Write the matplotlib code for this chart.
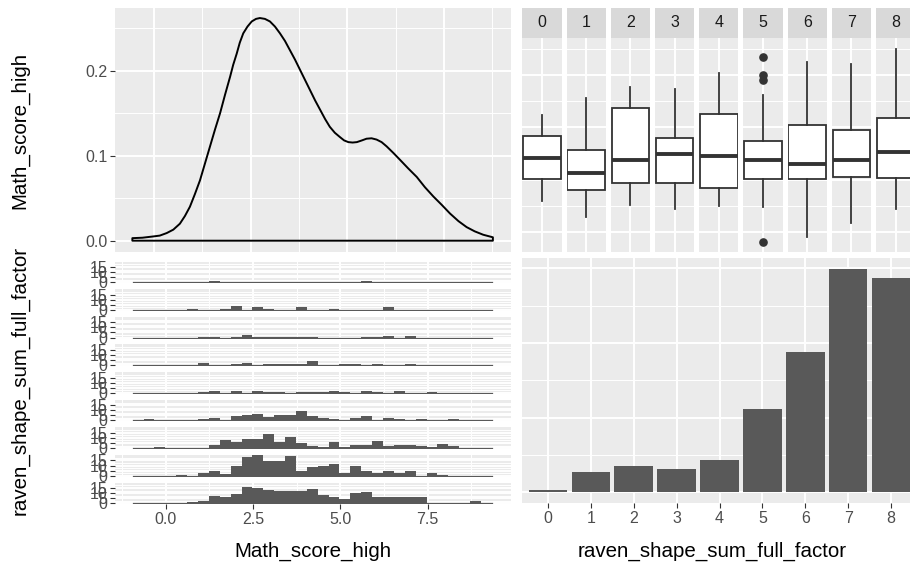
import numpy as np
import matplotlib
matplotlib.use("Agg")
import matplotlib.pyplot as plt

plt.rcParams["font.family"] = ["Liberation Sans", "DejaVu Sans"]

# ─────────────────────────────────────────────────────────────
#  data
# ─────────────────────────────────────────────────────────────
groups = ["0", "1", "2", "3", "4", "5", "6", "7", "8"]

# diagonal density of Math_score_high
dens_x = [-0.56, -0.30, -0.02, 0.15, 0.33, 0.50, 0.67, 0.80, 0.93, 1.06, 1.19,
          1.32, 1.45, 1.58, 1.71, 1.84, 1.97, 2.05, 2.14, 2.22, 2.31, 2.42,
          2.53, 2.64, 2.74, 2.87, 3.00, 3.13, 3.26, 3.39, 3.52, 3.65, 3.78,
          3.91, 4.04, 4.17, 4.30, 4.43, 4.55, 4.68, 4.81, 4.92, 5.03, 5.14,
          5.25, 5.38, 5.50, 5.63, 5.76, 5.89, 6.02, 6.20, 6.37, 6.58, 6.80,
          7.01, 7.23, 7.45, 7.66, 7.88, 8.09, 8.30, 8.52, 8.77]
dens_y = [0.0030, 0.0035, 0.0050, 0.0060, 0.0090, 0.0130, 0.0200, 0.0290,
          0.0400, 0.0550, 0.0710, 0.0910, 0.1110, 0.1310, 0.1500, 0.1720,
          0.1930, 0.2070, 0.2200, 0.2330, 0.2440, 0.2520, 0.2580, 0.2610,
          0.2620, 0.2610, 0.2580, 0.2520, 0.2440, 0.2350, 0.2240, 0.2130,
          0.2010, 0.1890, 0.1770, 0.1650, 0.1540, 0.1430, 0.1340, 0.1270,
          0.1220, 0.1180, 0.1160, 0.1155, 0.1160, 0.1180, 0.1200, 0.1205,
          0.1190, 0.1160, 0.1110, 0.1030, 0.0950, 0.0850, 0.0750, 0.0630,
          0.0520, 0.0420, 0.0320, 0.0230, 0.0160, 0.0110, 0.0070, 0.0040]

# box plots of Math_score_high per raven group
box_lo = [1.49, 0.72, 1.28, 1.10, 1.22, 1.20, -0.27, 0.43, 1.07]
box_q1 = [2.51, 2.00, 2.35, 2.35, 2.11, 2.54, 2.53, 2.62, 2.59]
box_med = [3.55, 2.82, 3.46, 3.73, 3.65, 3.46, 3.26, 3.46, 3.82]
box_q3 = [4.59, 3.90, 5.92, 4.48, 5.63, 4.35, 5.12, 4.88, 5.44]
box_hi = [5.60, 6.43, 6.93, 6.85, 7.60, 6.56, 8.14, 8.03, 8.77]
box_fliers = [[], [], [], [], [], [8.37, 7.52, 7.28, -0.48], [], [], []]

# faceted histograms (33 bins) of Math_score_high per raven group
hist_lo, hist_hi, n_bins = -0.945, 9.338, 33
hist_counts = [
    [0, 0, 0, 0, 0, 0, 0, 1, 0, 0, 0, 0, 0, 0, 0, 0, 0, 0, 0, 0, 0, 1, 0, 0, 0, 0, 0, 0, 0, 0, 0, 0, 0],
    [0, 0, 0, 0, 0, 1, 0, 0, 1, 4, 0, 3, 1, 0, 0, 3, 0, 0, 1, 0, 0, 0, 0, 3, 0, 0, 0, 0, 0, 0, 0, 0, 0],
    [0, 0, 0, 0, 0, 0, 1, 1, 0, 1, 3, 1, 1, 1, 1, 1, 1, 0, 0, 0, 0, 1, 1, 2, 0, 2, 0, 0, 0, 0, 0, 0, 0],
    [0, 0, 0, 0, 0, 0, 2, 0, 0, 1, 2, 0, 1, 1, 1, 1, 4, 0, 0, 1, 1, 0, 1, 0, 0, 1, 0, 0, 0, 0, 0, 0, 0],
    [0, 0, 0, 0, 0, 0, 1, 2, 0, 2, 0, 2, 1, 1, 0, 1, 1, 1, 2, 1, 0, 2, 1, 0, 2, 0, 0, 1, 0, 0, 0, 0, 0],
    [0, 1, 0, 0, 0, 0, 1, 2, 0, 4, 5, 6, 3, 5, 5, 9, 4, 2, 1, 0, 2, 4, 0, 2, 1, 0, 1, 0, 0, 1, 0, 0, 0],
    [0, 0, 1, 0, 0, 0, 0, 3, 8, 6, 9, 9, 14, 6, 11, 5, 2, 1, 6, 1, 3, 3, 7, 2, 3, 3, 2, 1, 4, 2, 0, 0, 0],
    [0, 0, 0, 0, 1, 0, 3, 5, 2, 10, 18, 20, 14, 14, 19, 5, 9, 10, 11, 3, 10, 5, 3, 5, 3, 5, 0, 3, 1, 0, 0, 0, 0],
    [0, 0, 0, 0, 0, 1, 2, 7, 6, 9, 16, 15, 13, 12, 12, 12, 14, 8, 6, 4, 10, 11, 6, 6, 6, 6, 6, 0, 0, 0, 0, 2, 0],
]

# bar chart of raven_shape_sum_full_factor
bar_counts = [2, 16, 21, 19, 26, 67, 113, 179, 172]

# ─────────────────────────────────────────────────────────────
W, H = 910, 562
PANEL = "#EBEBEB"
STRIP = "#D9D9D9"
FILL = "#595959"
TXT = 11.5
TITLE = 14.8

fig = plt.figure(figsize=(W / 100, H / 100), dpi=100)
fig.patch.set_facecolor("white")


def add_ax(x0, y0, x1, y1):
    """axes from pixel box (top-left origin)"""
    return fig.add_axes([x0 / W, 1 - y1 / H, (x1 - x0) / W, (y1 - y0) / H])


def gg_style(ax):
    ax.set_facecolor(PANEL)
    for s in ax.spines.values():
        s.set_visible(False)
    ax.tick_params(colors="#333333", labelcolor="#4D4D4D", length=3.6,
                   width=0.8, labelsize=TXT, pad=2)


def gg_grid(ax, xmaj=(), xmin=(), ymaj=(), ymin=()):
    for v in xmin:
        ax.axvline(v, color="white", lw=0.7, zorder=0)
    for v in ymin:
        ax.axhline(v, color="white", lw=0.7, zorder=0)
    for v in xmaj:
        ax.axvline(v, color="white", lw=1.4, zorder=0)
    for v in ymaj:
        ax.axhline(v, color="white", lw=1.4, zorder=0)


# ── top-left: density ────────────────────────────────────────
ax = add_ax(115, 7.5, 510.7, 252)
gg_style(ax)
gg_grid(ax, xmaj=[0, 2.5, 5, 7.5], xmin=[1.25, 3.75, 6.25, 8.75],
        ymaj=[0, 0.1, 0.2], ymin=[0.05, 0.15, 0.25])
px = [dens_x[0]] + dens_x + [dens_x[-1]]
py = [0] + dens_y + [0]
ax.fill(px, py, facecolor="none", edgecolor="black", lw=1.4, zorder=3,
        joinstyle="round")
ax.set_xlim(-1.009, 9.231)
ax.set_ylim(-0.0133, 0.2744)
ax.set_xticks([])
ax.set_yticks([0, 0.1, 0.2])
ax.set_yticklabels(["0.0", "0.1", "0.2"])

# ── top-right: box plots faceted by group ────────────────────
for i, g in enumerate(groups):
    x0 = 522.3 + i * 44.2
    x1 = x0 + 39.4
    st = add_ax(x0, 7.5, x1, 38.3)
    st.set_facecolor(STRIP)
    for s in st.spines.values():
        s.set_visible(False)
    st.set_xticks([])
    st.set_yticks([])
    st.text(0.5, 0.5, g, ha="center", va="center", fontsize=TXT,
            color="#1A1A1A", transform=st.transAxes)

    ax = add_ax(x0, 38.3, x1, 252.3)
    gg_style(ax)
    gg_grid(ax, xmaj=[0], ymaj=[0, 2.5, 5, 7.5], ymin=[1.25, 3.75, 6.25, 8.75])
    stats = dict(med=box_med[i], q1=box_q1[i], q3=box_q3[i],
                 whislo=box_lo[i], whishi=box_hi[i], fliers=box_fliers[i])
    ax.bxp([stats], positions=[0], widths=0.95, patch_artist=True,
           showcaps=False,
           boxprops=dict(facecolor="white", edgecolor="#333333", lw=1.3),
           medianprops=dict(color="#333333", lw=2.8),
           whiskerprops=dict(color="#333333", lw=1.3),
           flierprops=dict(marker="o", markerfacecolor="#333333",
                           markeredgecolor="#333333", markersize=5.2))
    ax.set_xlim(-0.5, 0.5)
    ax.set_ylim(-0.992, 9.28)
    ax.set_xticks([])
    ax.set_yticks([])

# ── bottom-left: histograms faceted by group ─────────────────
edges = np.linspace(hist_lo, hist_hi, n_bins + 1)
centers = (edges[:-1] + edges[1:]) / 2
bw = edges[1] - edges[0]
for k, counts in enumerate(hist_counts):
    base = 282.3 + k * 27.63
    ax = add_ax(115, base - 20.7, 510.7, base + 1.02)
    gg_style(ax)
    gg_grid(ax, xmaj=[0, 2.5, 5, 7.5], xmin=[-1.25, 1.25, 3.75, 6.25, 8.75],
            ymaj=[0, 5, 10, 15], ymin=[2.5, 7.5, 12.5, 17.5])
    ax.bar(centers, counts, width=bw, color=FILL, lw=0, zorder=2)
    ax.plot([edges[0], edges[-1]], [0, 0], color=FILL, lw=0.9, zorder=2)
    ax.set_xlim(-1.451, 9.877)
    ax.set_ylim(-1.0, 20.3)
    ax.set_yticks([0, 5, 10, 15])
    ax.set_yticklabels(["0", "5", "10", "15"])
    if k == len(hist_counts) - 1:
        ax.set_xticks([0, 2.5, 5, 7.5])
        ax.set_xticklabels(["0.0", "2.5", "5.0", "7.5"])
    else:
        ax.set_xticks([])

# ── bottom-right: bar chart ──────────────────────────────────
ax = add_ax(522.3, 258.3, 916.8, 503.3)
gg_style(ax)
m = max(bar_counts)
gg_grid(ax, xmaj=range(len(groups)), ymaj=[0, 60, 120, 180], ymin=[30, 90, 150])
ax.bar(range(len(groups)), bar_counts, width=0.9, color=FILL, lw=0, zorder=2)
ax.set_xlim(-0.6, len(groups) - 0.4)
ax.set_ylim(-0.05 * m, 1.05 * m)
ax.set_xticks(range(len(groups)))
ax.set_xticklabels(groups)
ax.set_yticks([])

# ── axis titles ──────────────────────────────────────────────
fig.text(312.9 / W, 1 - 551.7 / H, "Math_score_high", ha="center", va="center",
         fontsize=TITLE)
fig.text(712 / W, 1 - 551.7 / H, "raven_shape_sum_full_factor", ha="center",
         va="center", fontsize=TITLE)
fig.text(20 / W, 1 - 130 / H, "Math_score_high", ha="center", va="center",
         rotation=90, fontsize=TITLE)
fig.text(20 / W, 1 - 380 / H, "raven_shape_sum_full_factor", ha="center",
         va="center", rotation=90, fontsize=TITLE)

fig.savefig("out.png", dpi=100)
plt.close(fig)
